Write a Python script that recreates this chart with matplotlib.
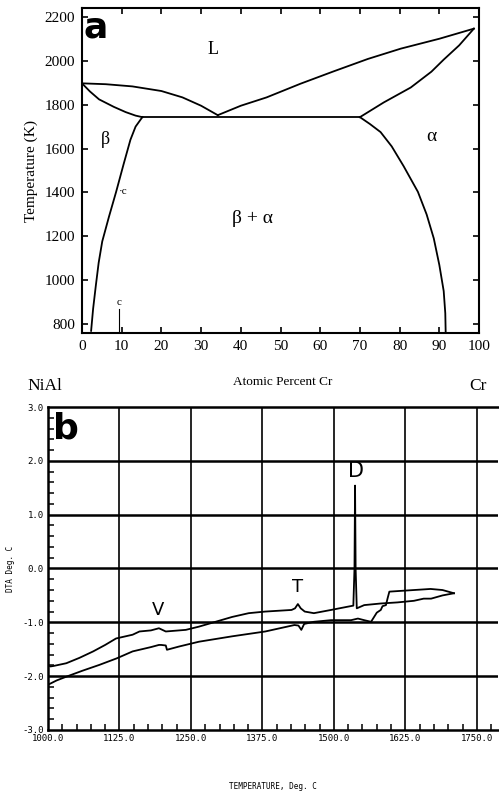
import matplotlib
matplotlib.use("Agg")
import matplotlib.pyplot as plt
import numpy as np

# ---- panel a: NiAl-Cr phase diagram ----
liq_left_x = [0, 6, 12.7, 20, 25.3, 30, 34.2]
liq_left_t = [1897, 1893, 1883, 1862, 1833, 1795, 1752]
sol_left_x = [0, 2, 4.3, 8, 11, 13.5, 15.2]
sol_left_t = [1897, 1860, 1824, 1790, 1766, 1750, 1743]
eut_x = [15.2, 70]
eut_t = [1743, 1743]
liq_right_x = [34.2, 40, 46.5, 55, 63.3, 72, 80.3, 90, 98.7]
liq_right_t = [1752, 1795, 1833, 1895, 1951, 2008, 2055, 2100, 2146]
sol_right_x = [70, 76, 82.8, 88, 91.1, 95, 98.7]
sol_right_t = [1743, 1810, 1878, 1950, 2005, 2070, 2146]
beta_x = [15.2, 13.5, 12.2, 10.5, 8.6, 6.8, 5.1, 4.2, 3.5, 2.8, 2.3]
beta_t = [1743, 1700, 1640, 1530, 1403, 1290, 1177, 1080, 978, 870, 770]
alpha_x = [70, 72.5, 75.2, 78, 81, 84.6, 86.8, 88.6, 90, 91.1, 91.5, 91.6]
alpha_t = [1743, 1712, 1675, 1610, 1520, 1403, 1300, 1191, 1070, 951, 850, 760]

a_xticks = [0, 10, 20, 30, 40, 50, 60, 70, 80, 90, 100]
a_yticks = [800, 1000, 1200, 1400, 1600, 1800, 2000, 2200]

# ---- panel b: DTA traces ----
heat_x = [1000, 1004, 1010, 1032, 1055, 1079, 1100, 1119, 1148, 1160, 1180, 1194,
          1206, 1241, 1264, 1293, 1322, 1351, 1380, 1426, 1432, 1437, 1442, 1449,
          1465, 1495, 1524, 1534, 1536, 1537, 1538, 1540, 1553, 1582, 1611, 1640,
          1657, 1670, 1690, 1710]
heat_y = [-1.79, -1.82, -1.81, -1.76, -1.66, -1.54, -1.42, -1.30, -1.23, -1.17, -1.15, -1.11,
          -1.17, -1.14, -1.08, -0.99, -0.90, -0.83, -0.80, -0.77, -0.74, -0.66, -0.74, -0.80,
          -0.83, -0.77, -0.71, -0.69, 0.0, 1.54, 0.0, -0.74, -0.68, -0.65, -0.63, -0.60,
          -0.56, -0.56, -0.50, -0.46]
cool_x = [1710, 1690, 1669, 1640, 1611, 1597, 1594, 1591, 1585, 1582, 1575, 1565,
          1553, 1542, 1530, 1495, 1465, 1448, 1443, 1438, 1431, 1380, 1322, 1264,
          1229, 1208, 1206, 1198, 1194, 1180, 1148, 1120, 1090, 1060, 1032, 1015, 1000]
cool_y = [-0.46, -0.40, -0.38, -0.40, -0.42, -0.43, -0.55, -0.68, -0.70, -0.77, -0.82, -0.99,
          -0.96, -0.93, -0.96, -0.96, -0.99, -1.03, -1.14, -1.06, -1.05, -1.17, -1.26, -1.36,
          -1.45, -1.51, -1.43, -1.42, -1.42, -1.46, -1.54, -1.67, -1.79, -1.90, -2.01, -2.08, -2.16]

b_xticks = [1000, 1125, 1250, 1375, 1500, 1625, 1750]
b_yticks = [-3, -2, -1, 0, 1, 2, 3]

fig = plt.figure(figsize=(4.99, 7.92), dpi=100)
serif = ["Liberation Serif", "DejaVu Serif"]

# panel a
ax = fig.add_axes([0.1643, 0.5795, 0.7957, 0.4104])
for xs, ts in [(liq_left_x, liq_left_t), (sol_left_x, sol_left_t), (eut_x, eut_t),
               (liq_right_x, liq_right_t), (sol_right_x, sol_right_t),
               (beta_x, beta_t), (alpha_x, alpha_t)]:
    ax.plot(xs, ts, color="black", lw=1.3)
ax.set_xlim(0, 100)
ax.set_ylim(760, 2240)
ax.set_xticks(a_xticks)
ax.set_yticks(a_yticks)
ax.set_xticklabels([str(v) for v in a_xticks], family=serif, fontsize=11)
ax.set_yticklabels([str(v) for v in a_yticks], family=serif, fontsize=11)
ax.tick_params(direction="in", top=True, right=True, length=4, width=1.2, pad=5)
for s in ax.spines.values():
    s.set_linewidth(1.5)
ax.set_ylabel("Temperature (K)", family=serif, fontsize=11, labelpad=5)
ax.text(33, 2050, "L", family=serif, fontsize=13, ha="center", va="center")
ax.text(6, 1643, "β", family=serif, fontsize=13, ha="center", va="center")
ax.text(88, 1657, "α", family=serif, fontsize=14, ha="center", va="center")
ax.text(43, 1281, "β + α", family=serif, fontsize=14, ha="center", va="center")
ax.text(9.2, 1403, "·c", family=serif, fontsize=8, ha="left", va="center")
ax.text(9.3, 900, "c", family=serif, fontsize=8, ha="center", va="center")
ax.plot([9.3, 9.3], [870, 770], color="black", lw=0.8)
ax.text(0.5, 2150, "a", fontsize=26, fontweight="bold", ha="left", va="center",
        family="DejaVu Sans")
fig.text(45 / 499, 1 - 386 / 792, "NiAl", family=serif, fontsize=12.5, ha="center", va="center")
fig.text(478 / 499, 1 - 386 / 792, "Cr", family=serif, fontsize=12.5, ha="center", va="center")
fig.text(283 / 499, 1 - 382 / 792, "Atomic Percent Cr", family=serif, fontsize=9.5,
         ha="center", va="center")

# panel b
bx = fig.add_axes([0.0962, 0.0783, 0.9018, 0.4078])
bx.plot(heat_x, heat_y, color="black", lw=1.3)
bx.plot(cool_x, cool_y, color="black", lw=1.3)
bx.set_xlim(1000, 1787)
bx.set_ylim(-3, 3)
bx.set_xticks(b_xticks)
bx.set_yticks(b_yticks)
bx.set_xticks(np.arange(1000, 1776, 25), minor=True)
bx.set_yticks(np.arange(-3, 3.01, 0.2), minor=True)
mono = ["DejaVu Sans Mono"]
bx.set_xticklabels([f"{v:.1f}" for v in b_xticks], family=mono, fontsize=6.5)
bx.set_yticklabels([f"{v:.1f}" for v in b_yticks], family=mono, fontsize=6.5)
bx.tick_params(which="major", direction="in", length=0, pad=3)
bx.tick_params(which="minor", direction="in", length=4, width=1.1)
for v in b_xticks[1:]:
    bx.axvline(v, color="black", lw=1.2)
for v in b_yticks[1:-1]:
    bx.axhline(v, color="black", lw=1.8)
bx.spines["right"].set_visible(False)
for s in ["left", "bottom", "top"]:
    bx.spines[s].set_linewidth(1.8)
bx.set_ylabel("DTA Deg. C", family=mono, fontsize=5.5, labelpad=5)
bx.set_xlabel("TEMPERATURE, Deg. C", family=mono, fontsize=5.5, labelpad=28)
bx.text(1193, -0.78, "V", fontsize=13, ha="center", va="center")
bx.text(1436, -0.34, "T", fontsize=13, ha="center", va="center")
bx.text(1539, 1.81, "D", fontsize=15, ha="center", va="center")
bx.text(1008, 2.6, "b", fontsize=26, fontweight="bold", ha="left", va="center")

fig.savefig("out.png", dpi=100)
